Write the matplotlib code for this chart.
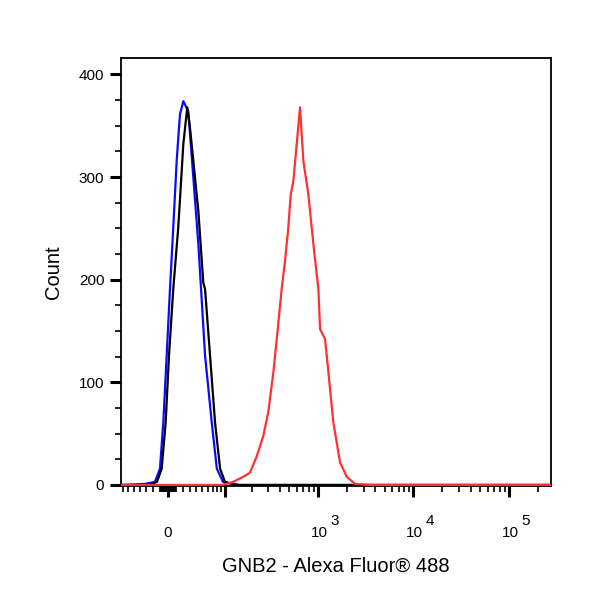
import numpy as np
import matplotlib
matplotlib.use("Agg")
import matplotlib.pyplot as plt

plt.rcParams['font.family'] = ['Liberation Sans', 'DejaVu Sans']

# fluorescence intensity (GNB2 - Alexa Fluor 488) vs count
blue_x = [-75, -31.5, -17.2, -10.5, -6.1, -1.7, 2.6, 6.9, 11.4, 15.8, 20.4,
          27.5, 35.0, 43.1, 54.9, 68.1, 79.2, 94.4, 148, 280000]
blue_y = [0, 1, 3, 16, 61, 126, 191, 251, 316, 361, 374,
          364, 300, 235, 126, 61, 16, 3, 0, 0]

black_x = [-75, -25, -14.5, -8.2, -3.0, 1.3, 6.9, 13.5, 20.4, 26.0, 30.0,
           43.1, 51.7, 54.9, 64.6, 75.2, 87.0, 99.7, 130, 280000]
black_y = [0, 0, 3, 16, 61, 126, 191, 251, 332, 368, 348,
           267, 197, 191, 126, 61, 16, 3, 0, 0]

red_x = [-75, 90, 104, 124, 161, 191, 226, 266, 300, 340, 384, 416, 451, 489,
         518, 552, 599, 649, 703, 794, 895, 1011, 1053, 1188, 1287, 1450,
         1705, 2004, 2447, 3514, 280000]
red_y = [0, 0, 1, 3, 8, 12, 28, 48, 71, 110, 158, 191, 218, 251,
         283, 296, 332, 368, 316, 283, 235, 191, 152, 142, 110, 61,
         22, 8, 1, 0, 0]

xmajor = [0, 100, 1000, 10000, 100000]
xlab_vals = [0, 1000, 10000, 100000]
xlab_base = ['0', '10', '10', '10']
xlab_exp = ['', '3', '4', '5']
xminor = ([-s * k for s in (1, 10) for k in range(1, 10) if s * k <= 70] +
          [s * k for s in (1, 10, 100, 1000, 10000) for k in range(1, 10)] +
          [200000])

fig = plt.figure(figsize=(6, 6), dpi=100)
ax = fig.add_axes([0.2017, 0.19, 0.7167, 0.7133])

ax.plot(blue_x, blue_y, color='#0a0aff', lw=1.6, zorder=3)
ax.plot(black_x, black_y, color='black', lw=1.6, zorder=4)
ax.plot(red_x, red_y, color='#ff3030', lw=1.6, zorder=5)

ax.set_xscale('asinh', linear_width=54)
ax.set_xlim(-75, 275000)
ax.set_ylim(-1, 416)

ax.set_xticks(xmajor)
ax.set_xticklabels([''] * len(xmajor))
ax.set_xticks(xminor, minor=True)
ax.set_yticks([0, 100, 200, 300, 400])
ax.set_yticks(np.arange(25, 416, 25), minor=True)

ax.tick_params(axis='both', which='major', direction='out', length=8, width=2.2,
               labelsize=11, color='black')
ax.tick_params(axis='both', which='minor', direction='out', length=4.5, width=1.2)
ax.tick_params(axis='y', which='major', pad=4)

# decade labels with full-size exponents, as in the cytometry software
for v, b, e in zip(xlab_vals, xlab_base, xlab_exp):
    ax.annotate(b, xy=(v, 0), xycoords=('data', 'axes fraction'),
                xytext=(1 if e else 0, -36.5), textcoords='offset points',
                ha='center', va='baseline', fontsize=11)
    if e:
        ax.annotate(e, xy=(v, 0), xycoords=('data', 'axes fraction'),
                    xytext=(9, -28), textcoords='offset points',
                    ha='left', va='baseline', fontsize=11)

for sp in ax.spines.values():
    sp.set_linewidth(1.3)
    sp.set_color('black')

ax.set_xlabel('GNB2 - Alexa Fluor® 488', fontsize=14.5)
ax.xaxis.set_label_coords(0.5, -0.166)
ax.set_ylabel('Count', fontsize=14.5)
ax.yaxis.set_label_coords(-0.135, 0.5)

fig.savefig('out.png', dpi=100)
